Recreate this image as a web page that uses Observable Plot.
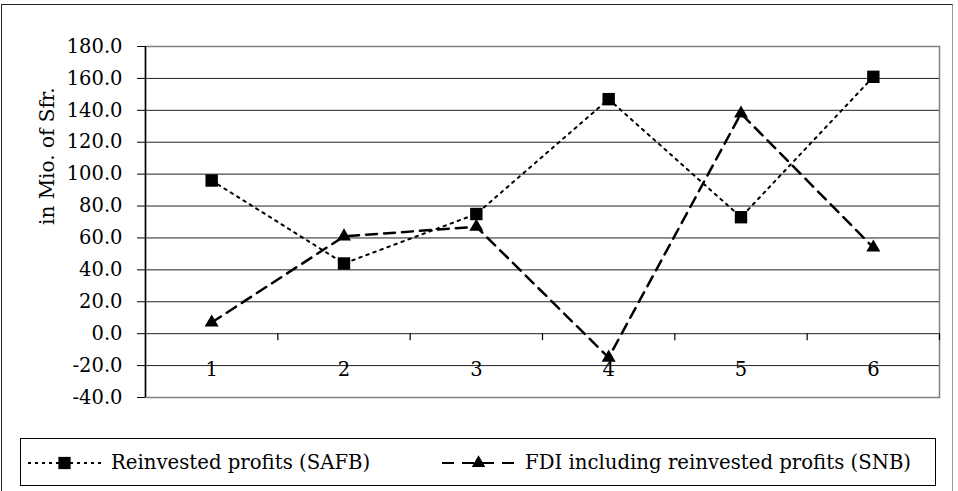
<!DOCTYPE html>
<html><head><meta charset="utf-8">
<script src="https://cdn.jsdelivr.net/npm/d3@7"></script>
<script src="https://cdn.jsdelivr.net/npm/@observablehq/plot@0.6"></script>
<style>
body{margin:0;background:#fff;width:958px;height:491px;overflow:hidden;position:relative;font-family:"DejaVu Serif",serif;}
#outer{position:absolute;left:1px;top:4px;width:950px;height:520px;border:1.5px solid #222;border-right-color:#999;}
#chart{position:absolute;left:0;top:0;}
#legend{position:absolute;left:20px;top:438px;width:916px;height:48px;border:1px solid #000;box-sizing:border-box;background:#fff;}
.item{position:absolute;top:0;height:46px;display:flex;align-items:center;font-size:19.7px;color:#000;white-space:nowrap;}
.item svg{margin-right:10px;}
</style></head><body>
<div id="outer"></div>
<div id="chart"></div>
<div id="legend"></div>
<script>
const categories = [1, 2, 3, 4, 5, 6];
const reinvestedSAFB = [96, 44, 75, 147, 73, 161];
const fdiSNB = [7, 61, 67, -15, 138, 54];
const yTicks = [-40, -20, 0, 20, 40, 60, 80, 100, 120, 140, 160, 180];
const categoryBounds = [1.5, 2.5, 3.5, 4.5, 5.5, 6.5];
const seriesNames = ["Reinvested profits (SAFB)", "FDI including reinvested profits (SNB)"];
const yLabel = "in Mio. of Sfr.";

const s1 = categories.map((c, i) => ({x: c, y: reinvestedSAFB[i]}));
const s2 = categories.map((c, i) => ({x: c, y: fdiSNB[i]}));

const chart = Plot.plot({
  width: 958,
  height: 430,
  marginLeft: 145,
  marginRight: 19,
  marginTop: 46,
  marginBottom: 33,
  style: {fontFamily: "DejaVu Serif", fontSize: "19.5px", background: "transparent", color: "#000"},
  x: {type: "linear", domain: [0.5, 6.5], axis: null},
  y: {domain: [-40, 180], ticks: yTicks, axis: null, label: null},
  marks: [
    Plot.ruleY(yTicks, {stroke: "#222", strokeWidth: 1}),
    Plot.frame({stroke: "#808080", strokeWidth: 1.5}),
    Plot.ruleX([0.5], {stroke: "#000", strokeWidth: 1.5}),
    Plot.axisY({ticks: yTicks, label: null, tickSize: 8, tickPadding: 15, tickFormat: d => d.toFixed(1), fontSize: 19.5, stroke: "#000"}),
    Plot.ruleX(categoryBounds, {x: d => d, y1: () => 0, y2: () => 0, insetBottom: -7, stroke: "#000", strokeWidth: 1.2}),
    Plot.text(categories, {x: d => d, text: d => String(d), frameAnchor: "bottom", dy: -22, fontSize: 19.5, fill: "#000"}),
    Plot.text([yLabel], {frameAnchor: "left", dx: -98, dy: 3, rotate: -90, fontSize: 20, fill: "#000", text: d => d}),
    Plot.line(s1, {x: "x", y: "y", stroke: "#000", strokeWidth: 2, strokeDasharray: "2.5,5"}),
    Plot.line(s2, {x: "x", y: "y", stroke: "#000", strokeWidth: 2.5, strokeDasharray: "11,7"}),
    Plot.dot(s1, {x: "x", y: "y", symbol: "square", r: 7, fill: "#000", stroke: "none"}),
    Plot.dot(s2, {x: "x", y: "y", symbol: "triangle", r: 5.2, fill: "#000", stroke: "none"})
  ]
});
document.getElementById("chart").appendChild(chart);

// Legend
const legend = d3.select("#legend");
const items = [
  {left: 7, name: seriesNames[0], dash: "3,4", sw: 2, symbol: d3.symbolSquare, size: 150},
  {left: 421, name: seriesNames[1], dash: "12,8", sw: 2, symbol: d3.symbolTriangle, size: 80}
];
items.forEach(it => {
  const div = legend.append("div").attr("class", "item").style("left", it.left + "px");
  const svg = div.append("svg").attr("width", 73).attr("height", 20);
  svg.append("line").attr("x1", 0).attr("x2", 73).attr("y1", 11).attr("y2", 11)
    .attr("stroke", "#000").attr("stroke-width", it.sw).attr("stroke-dasharray", it.dash);
  svg.append("path").attr("d", d3.symbol(it.symbol, it.size)()).attr("transform", "translate(36.5,11)").attr("fill", "#000");
  div.append("span").text(it.name);
});
</script>
</body></html>
